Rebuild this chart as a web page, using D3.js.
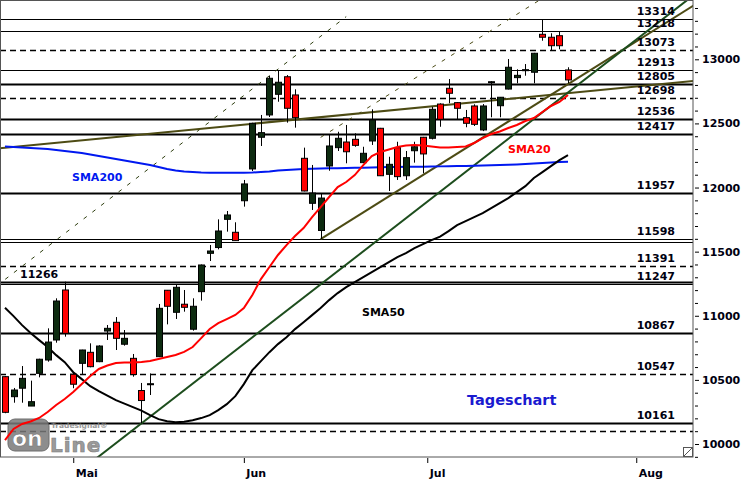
<!DOCTYPE html>
<html><head><meta charset="utf-8">
<script src="https://cdn.jsdelivr.net/npm/d3@7/dist/d3.min.js"></script>
<style>body{margin:0;background:#fff;overflow:hidden}</style>
</head><body>
<script>
// ---------- data ----------
const open  = [10525,10369,10435,10296,10551,10655,10811,11201,10544,10629,10715,10642,10881,10949,10778,10668,10417,10464,10681,11199,11027,11090,10895,11188,11487,11532,11752,11651,11897,12145,12392,12566,12727,12864,12722,12228,11877,11665,12168,12311,12355,12376,12194,12363,12462,12103,12311,12092,12287,12392,12384,12651,12774,12662,12545,12636,12449,12818,12638,12768,12857,12914,12899,13195,13172,13184,12917];
const high  = [10530,10437,10608,10494,10665,10902,11136,11266,10554,10735,10785,10770,10928,10990,10889,10702,10476,10550,11092,11201,11240,11201,11136,11400,11552,11752,11817,11729,12059,12505,12566,12870,12913,12877,12766,12311,12176,11957,12410,12435,12488,12423,12318,12610,12465,12240,12357,12285,12357,12395,12630,12657,12846,12666,12605,12649,12651,12830,12706,13002,12922,12963,13050,13314,13203,13215,12938];
const low   = [10240,10322,10322,10296,10520,10642,10790,10837,10435,10546,10598,10638,10811,10733,10767,10525,10161,10382,10678,10933,10975,11032,10884,11118,11427,11518,11656,11585,11851,12129,12324,12550,12669,12506,12467,11970,11825,11598,12131,12285,12189,12318,12190,12332,12090,11973,12059,12059,12194,12111,12375,12474,12657,12527,12470,12480,12440,12548,12548,12765,12813,12872,12813,13145,13067,13078,12813];
const close = [10247,10421,10512,10330,10661,10795,11115,10863,10466,10733,10603,10764,10902,10824,10824,10542,10339,10470,11058,11074,11222,11066,11074,11396,11505,11661,11786,11586,12028,12501,12428,12852,12821,12618,12545,11973,11957,11918,12324,12384,12279,12329,12267,12527,12092,12181,12085,12233,12318,12262,12610,12532,12735,12618,12501,12493,12636,12825,12704,12938,12875,12919,13047,13172,13106,13106,12839];

const sma20  = [10031,10117,10156,10176,10203,10250,10304,10351,10406,10468,10530,10585,10612,10632,10636,10636,10640,10647,10663,10679,10694,10718,10756,10826,10897,10943,10974,11006,11060,11162,11286,11380,11474,11551,11622,11684,11770,11848,11926,12004,12043,12097,12175,12245,12277,12297,12316,12328,12332,12328,12320,12312,12312,12316,12320,12347,12386,12417,12437,12464,12488,12519,12542,12589,12636,12667,12722];
const sma50  = [11062,10997,10927,10865,10810,10756,10693,10638,10560,10506,10451,10412,10377,10342,10315,10287,10260,10225,10194,10178,10170,10174,10186,10202,10225,10264,10311,10373,10467,10576,10646,10716,10779,10833,10896,10950,11005,11060,11122,11177,11223,11262,11301,11340,11379,11418,11457,11489,11528,11559,11590,11617,11660,11707,11738,11769,11801,11840,11879,11918,11964,12011,12074,12120,12167,12214,12253];
const sma200 = [12320,12316,12312,12308,12304,12300,12293,12285,12277,12269,12258,12246,12234,12222,12211,12199,12187,12176,12160,12145,12133,12125,12121,12117,12116,12116,12116,12116,12116,12117,12121,12125,12133,12137,12141,12145,12147,12149,12150,12151,12152,12154,12155,12157,12159,12160,12161,12162,12163,12163,12164,12165,12166,12167,12168,12170,12171,12173,12175,12177,12180,12184,12187,12191,12195,12199,12202];

// horizontal levels
const levelValues = [13314,13218,13073,12913,12805,12698,12536,12417,11957,11598,11572,11391,11266,11247,10867,10547,10161,10101];
const levelLabels = ["13314","13218","13073","12913","12805","12698","12536","12417","11957","11598","","11391","11266","11247","10867","10547","10161",""];

// trend lines: [index, value] anchor pairs
const trendGreen  = [[16,10161],[60,12431]];
const trendOliveA = [[0,12310],[66,12736]];
const trendOliveB = [[37,11598],[66,12806]];
const channelA    = [[0,11283],[32,12923]];
const channelB    = [[37,12391],[62,13434]];

const monthLabels = ["Mai","Jun","Jul","Aug"];
const monthIndex  = [8,28,49.5,74];
const yTickValues = [10000,10500,11000,11500,12000,12500,13000];

// ---------- drawing ----------
const W=750,H=480, PR=693, PB=457;
const FONT="'DejaVu Sans', Verdana, sans-serif";
const svg=d3.select("body").append("svg").attr("width",W).attr("height",H)
  .style("font-family",FONT);

const x=d3.scaleLinear().domain([0,66]).range([5,568]);
const y=d3.scaleLinear().domain([10000,13000]).range([444,59.3]);

svg.append("defs").append("clipPath").attr("id","clip")
  .append("rect").attr("x",0).attr("y",0).attr("width",PR).attr("height",PB);
const g=svg.append("g").attr("clip-path","url(#clip)");

// level line styles
const levelStyle = {
  13314:"thin",13218:"thin",13073:"dash",12913:"thin",12805:"thick",12698:"dash",
  12536:"thick",12417:"thick",11957:"thick",11598:"thin",11572:"thin",11391:"dash",
  11266:"thick",11247:"thin",10867:"thick",10547:"dash",10161:"thick",10101:"dash"};
const styleDef = {thin:{w:1,d:null},thick:{w:2.2,d:null},dash:{w:1.3,d:"6,4"}};

levelValues.forEach(v=>{
  const s=styleDef[levelStyle[v]];
  const yy=Math.round(y(v))+ (s.w%2? 0.5:0);
  g.append("line").attr("x1",0).attr("x2",PR).attr("y1",yy).attr("y2",yy)
   .attr("stroke","#000").attr("stroke-width",s.w).attr("stroke-dasharray",s.d);
});

// logo (watermark)
const logo=g.append("g").attr("opacity",0.85);
logo.append("rect").attr("x",8).attr("y",419).attr("width",41).attr("height",32).attr("rx",7)
  .attr("fill","#7a7a7a").attr("stroke","#555").attr("stroke-width",1);
logo.append("text").attr("x",12).attr("y",446).text("on")
  .style("font-size","22px").style("font-weight","bold").attr("fill","#fff").attr("stroke","#555").attr("stroke-width",0.6);
logo.append("text").attr("x",50).attr("y",452).text("Line")
  .style("font-size","20px").style("font-weight","bold").style("letter-spacing","1px")
  .attr("fill","#8a8a8a").attr("stroke","#666").attr("stroke-width",0.6);
logo.append("text").attr("x",51).attr("y",428).text("Tradesignal®")
  .style("font-size","7.5px").style("font-weight","bold").attr("fill","#888");

// trend lines
function trend(pts, color, width, dash){
  const [p0,p1]=pts;
  const slope=(p1[1]-p0[1])/(p1[0]-p0[0]);
  return {p0, slope, color, width, dash};
}
function drawTrend(t, i0, i1){
  const v0=t.p0[1]+t.slope*(i0-t.p0[0]), v1=t.p0[1]+t.slope*(i1-t.p0[0]);
  g.append("line").attr("x1",x(i0)).attr("y1",y(v0)).attr("x2",x(i1)).attr("y2",y(v1))
   .attr("stroke",t.color).attr("stroke-width",t.width).attr("stroke-dasharray",t.dash);
}
drawTrend(trend(channelA,"#2f3f10",1,"4,7"), -1, 40);
drawTrend(trend(channelB,"#4a4a14",1,"4,7"), 37, 66);
drawTrend(trend(trendOliveA,"#4d4b14",2), -1, 81);
drawTrend(trend(trendOliveB,"#4d4b14",2), 37, 81);
drawTrend(trend(trendGreen,"#1d4d1d",2), 0, 81);

// moving averages
const line=d3.line().x((d,i)=>x(i)).y(d=>y(d));
g.append("path").datum(sma200).attr("d",line).attr("fill","none").attr("stroke","#0018f0").attr("stroke-width",2);
g.append("path").datum(sma50).attr("d",line).attr("fill","none").attr("stroke","#000").attr("stroke-width",2);

// candles
const idx=d3.range(open.length);
g.selectAll(".wick").data(idx).join("line")
  .attr("x1",i=>Math.round(x(i))+0.5).attr("x2",i=>Math.round(x(i))+0.5)
  .attr("y1",i=>y(high[i])).attr("y2",i=>y(low[i]))
  .attr("stroke","#000").attr("stroke-width",1);
g.selectAll(".body").data(idx).join("rect")
  .attr("x",i=>Math.round(x(i))-2.5).attr("width",6)
  .attr("y",i=>y(Math.max(open[i],close[i])))
  .attr("height",i=>Math.max(1,Math.abs(y(open[i])-y(close[i]))))
  .attr("fill",i=>close[i]>=open[i]?"#0d2b10":"#ff0000")
  .attr("stroke","#000").attr("stroke-width",1);

g.append("path").datum(sma20).attr("d",line).attr("fill","none").attr("stroke","#ff0000").attr("stroke-width",2);

// level labels
levelValues.forEach((v,i)=>{
  if(!levelLabels[i]) return;
  const left = v===11266;
  svg.append("text").attr("x",left?20:675).attr("y",y(v)-4)
    .attr("text-anchor",left?"start":"end").text(levelLabels[i])
    .style("font-size","11px").style("font-weight","bold").attr("fill","#000010");
});

// indicator labels
function lbl(t,xx,yy,col,size){
  svg.append("text").attr("x",xx).attr("y",yy).text(t).style("font-size",size+"px")
   .style("font-weight","bold").attr("fill",col);
}
lbl("SMA200",72,181,"#0018f0",11);
lbl("SMA50",362,316,"#000",11);
lbl("SMA20",508,153,"#ff0000",11);
lbl("Tageschart",467,405,"#1a1ad0",14.5);

// frame
svg.append("rect").attr("x",0.5).attr("y",0.5).attr("width",PR-0.5).attr("height",PB-0.5)
  .attr("fill","none").attr("stroke","#555").attr("stroke-width",1);

// resize grip
svg.append("rect").attr("x",683.5).attr("y",447.5).attr("width",9).attr("height",9).attr("fill","#fff").attr("stroke","#555");
svg.append("line").attr("x1",684).attr("y1",456).attr("x2",692).attr("y2",448).attr("stroke","#555");

// right axis
const yAx=svg.append("g").attr("transform","translate(695,0)")
  .call(d3.axisRight(y).tickValues(yTickValues).tickSize(4).tickPadding(3).tickFormat(d3.format("d")));
const minor=d3.range(9900,13500,100).filter(v=>v%500!==0);
const yAxMinor=svg.append("g").attr("transform","translate(695,0)")
  .call(d3.axisRight(y).tickValues(minor).tickSize(3).tickFormat(""));
[yAx,yAxMinor].forEach(a=>{a.select(".domain").remove();a.selectAll("line").attr("stroke","#000");});
yAx.selectAll("text").style("font-family",FONT).style("font-size","11px").style("font-weight","bold").attr("fill","#000010");

// bottom axis
const xAx=svg.append("g").attr("transform","translate(0,458)")
  .call(d3.axisBottom(x).tickValues(monthIndex).tickFormat((d,i)=>monthLabels[i]).tickSize(5).tickPadding(6));
xAx.select(".domain").remove();
xAx.selectAll("line").attr("stroke","#000");
xAx.selectAll("text").attr("text-anchor","start").attr("dx",2)
  .style("font-family",FONT).style("font-size","11px").style("font-weight","bold").attr("fill","#000010");
</script>
</body></html>
